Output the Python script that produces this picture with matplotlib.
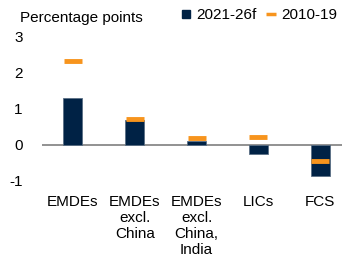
import matplotlib
matplotlib.use("Agg")
import matplotlib.pyplot as plt
from matplotlib.lines import Line2D

categories = ["EMDEs", "EMDEs\nexcl.\nChina", "EMDEs\nexcl.\nChina,\nIndia", "LICs", "FCS"]
forecast_2021_26 = [1.3, 0.67, 0.11, -0.26, -0.87]
avg_2010_19 = [2.3, 0.72, 0.2, 0.22, -0.44]
yticks = [-1, 0, 1, 2, 3]

navy = "#002245"
orange = "#F7941D"

plt.rcParams["font.family"] = ["Liberation Sans", "DejaVu Sans"]
plt.rcParams["font.size"] = 11

fig = plt.figure(figsize=(3.42, 2.56), dpi=100)
ax = fig.add_axes([42/342, (256-181)/256, 309/342, 145/256])

x = list(range(len(categories)))
ax.bar(x, forecast_2021_26, width=0.31, color=navy, edgecolor="#5a6f85", linewidth=0.6, zorder=2)
ax.plot(x, avg_2010_19, linestyle="none", marker="_", markersize=13, markeredgewidth=3.5,
        color=orange, zorder=3)

ax.set_xlim(-0.5, 4.5)
ax.set_ylim(-1, 3)
ax.set_yticks(yticks)
ax.set_yticklabels([str(t) for t in yticks])
ax.set_xticks(x)
ax.set_xticklabels(categories, linespacing=1.2, va="top")
ax.tick_params(axis="both", length=0, labelsize=11, colors="black")
ax.tick_params(axis="y", pad=14)
ax.tick_params(axis="x", pad=10)
for s in ax.spines.values():
    s.set_visible(False)
ax.axhline(0, color="#7f7f7f", linewidth=1.2, zorder=1)

fig.text(20/342, 1 - 22/256, "Percentage points", fontsize=11, va="baseline", ha="left")

handles = [
    Line2D([], [], linestyle="none", marker="s", markersize=6, color=navy),
    Line2D([], [], linestyle="none", marker="_", markersize=7, markeredgewidth=2.5, color=orange),
]
fig.legend(handles, ["2021-26f", "2010-19"], loc="upper left",
           bbox_to_anchor=(181/342, 1 - 8/256), frameon=False, ncol=2,
           handlelength=0.7, handletextpad=0.3, columnspacing=0.6, fontsize=11,
           borderpad=0, borderaxespad=0)

fig.savefig("out.png", dpi=100)
